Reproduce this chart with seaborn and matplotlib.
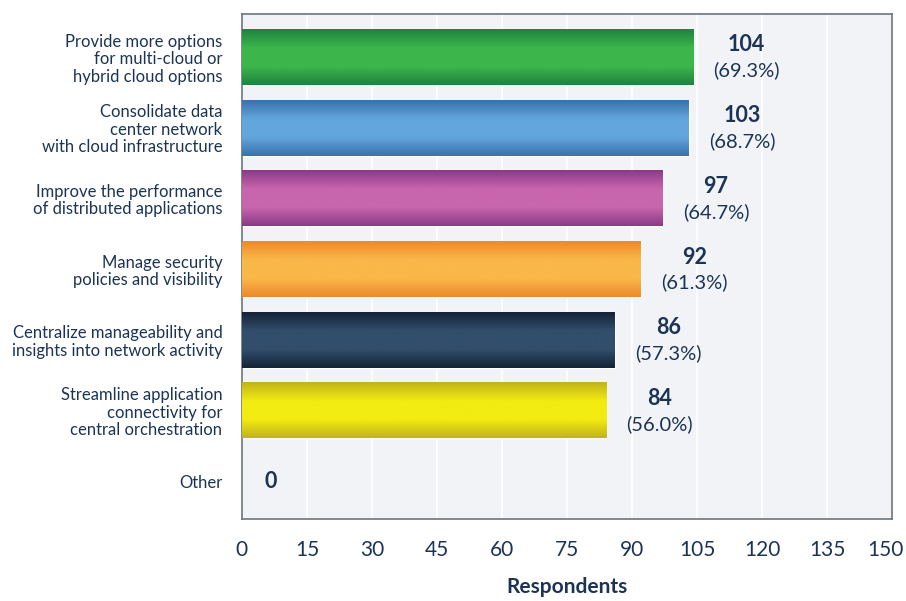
import matplotlib
matplotlib.use("Agg")
import matplotlib.pyplot as plt
import matplotlib.transforms as mtransforms
import numpy as np
import pandas as pd
import seaborn as sns
from matplotlib.colors import LinearSegmentedColormap

CATEGORIES = [
    "Provide more options\nfor multi-cloud or\nhybrid cloud options",
    "Consolidate data\ncenter network\nwith cloud infrastructure",
    "Improve the performance\nof distributed applications",
    "Manage security\npolicies and visibility",
    "Centralize manageability and\ninsights into network activity",
    "Streamline application\nconnectivity for\ncentral orchestration",
    "Other",
]
COUNTS = [104, 103, 97, 92, 86, 84, 0]
PERCENTS = ["(69.3%)", "(68.7%)", "(64.7%)", "(61.3%)", "(57.3%)", "(56.0%)", ""]
X_TICKS = [0, 15, 30, 45, 60, 75, 90, 105, 120, 135, 150]

# (edge, middle) colours for the shaded bars
BAR_EDGE = ["#1e8340", "#3a72ab", "#8c3a86", "#ee8a2e", "#142438", "#c2b31a", "#999999"]
BAR_MID = ["#3db64b", "#62a6dc", "#c866ae", "#f9b848", "#324e6c", "#f2ec12", "#bbbbbb"]

TEXT = "#1b3456"

sns.set_theme(style="white")
plt.rcParams["font.family"] = ["Lato", "DejaVu Sans"]

df = pd.DataFrame({"category": CATEGORIES, "count": COUNTS})

fig = plt.figure(figsize=(9.06, 6.01), dpi=100)
ax = fig.add_axes([0.267, 0.136, 0.718, 0.841])
ax.set_facecolor("#f2f3f6")

sns.barplot(
    data=df, y="category", x="count", hue="category",
    palette=dict(zip(CATEGORIES, BAR_MID)), legend=False,
    orient="h", width=0.79, ax=ax, zorder=2,
)

XLIM = (0, 150)
YLIM = (6.54, -0.61)

# vertical shading on each bar
for patch, c0, c1 in zip(ax.patches, BAR_EDGE, BAR_MID):
    x0, y0 = patch.get_x(), patch.get_y()
    w, h = patch.get_width(), patch.get_height()
    if w <= 0:
        continue
    cmap = LinearSegmentedColormap.from_list("g", [c0, c1, c1, c0])
    grad = np.linspace(0, 1, 64).reshape(-1, 1)
    im = ax.imshow(grad, cmap=cmap, aspect="auto", extent=(x0, x0 + w, y0 + h, y0),
                   zorder=3, interpolation="bicubic")
    im.set_clip_path(patch)
ax.set_xlim(*XLIM)
ax.set_ylim(*YLIM)

ax.set_xticks(X_TICKS)
ax.xaxis.grid(True, color="white", linewidth=1.2, zorder=0)
ax.yaxis.grid(False)
ax.set_axisbelow(True)
ax.tick_params(axis="x", length=0, pad=15, labelsize=15, labelcolor=TEXT)
ax.tick_params(axis="y", length=0, pad=14, labelsize=12, labelcolor=TEXT)
for lab in ax.get_yticklabels():
    lab.set_multialignment("right")
    lab.set_linespacing(1.12)
# last tick label sits a little inside the frame, as in the original
last = ax.get_xticklabels()[-1]
last.set_transform(last.get_transform() + mtransforms.ScaledTranslation(-7 / 100, 0, fig.dpi_scale_trans))

for s in ax.spines.values():
    s.set_color("#6b7480")
    s.set_linewidth(1.2)

ax.set_ylabel("")
ax.set_xlabel("Respondents", fontsize=15, fontweight="bold", color=TEXT, labelpad=12)

for i, (c, p) in enumerate(zip(COUNTS, PERCENTS)):
    if p:
        xc = c + 12.3
        ax.text(xc, i - 0.17, str(c), ha="center", va="center", fontsize=15.5,
                fontweight="bold", color=TEXT)
        ax.text(xc, i + 0.19, p, ha="center", va="center", fontsize=14.5, color=TEXT)
    else:
        ax.text(c + 6.6, i, str(c), ha="center", va="center", fontsize=15.5,
                fontweight="bold", color=TEXT)

fig.savefig("out.png", dpi=100)
